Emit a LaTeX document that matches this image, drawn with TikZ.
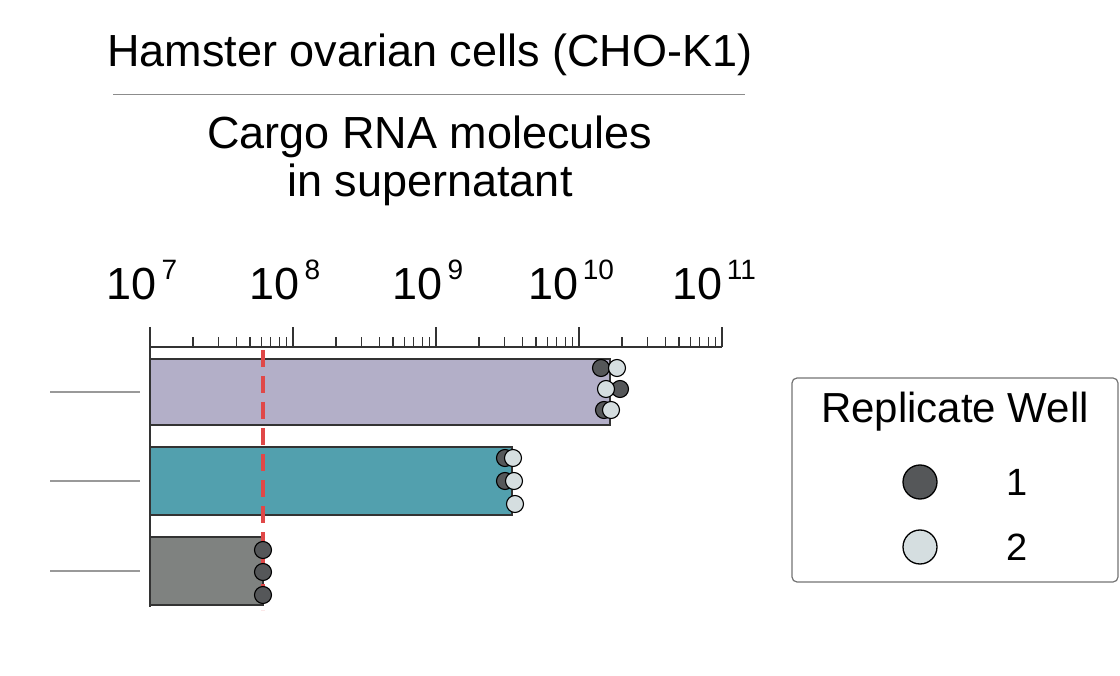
\documentclass[tikz,border=0pt]{standalone}
\usepackage{fontspec}
\setmainfont{Liberation Sans}
\usetikzlibrary{positioning}
\definecolor{barpurple}{HTML}{B3AFC8}
\definecolor{barteal}{HTML}{52A0AE}
\definecolor{bargray}{HTML}{7F8280}
\definecolor{welldark}{HTML}{555759}
\definecolor{welllight}{HTML}{D5DEE0}
\definecolor{cutred}{HTML}{E04848}
\tikzset{
  bar/.style={draw=black!80,line width=1.2pt},
  welldot/.style={circle,draw=black,line width=1.1pt,minimum size=17pt,inner sep=0pt},
  wellone/.style={welldot,fill=welldark},
  welltwo/.style={welldot,fill=welllight},
  txt/.style={font=\fontsize{45}{48}\selectfont},
}
\begin{document}
\begin{tikzpicture}[x=1pt,y=-1pt]
  % Constants
  \pgfmathsetmacro\dec{143}
  % Boundary
  \path[use as bounding box] (0,0) rectangle (1120,676);
  % Titles
  \node[txt] (title) at (430,55) {Hamster ovarian cells (CHO-K1)};
  \draw[black!45,line width=1pt] (113,95) -- (745,95);
  \node[txt,align=center] (cargo) at (430,161) {Cargo RNA molecules\\in supernatant};
  % Axis
  \draw[black!80,line width=1.3pt] (150,327) -- (150,607);
  \draw[black!80,line width=1.3pt] (150,347) -- (722,347);
  \foreach \e [count=\i from 0] in {7,8,9,10,11}{
    \draw[black!80,line width=1.3pt] (150+\i*\dec,347) -- (150+\i*\dec,327);
    \node[font=\fontsize{45}{48}\selectfont,anchor=base] (lab\e) at (142+\i*\dec,300) {10\raisebox{20pt}{\fontsize{28}{30}\selectfont\,\e}};
  }
  \foreach \i in {0,1,2,3}{
    \foreach \m in {2,...,9}{
      \draw[black!80,line width=1.1pt] ({150+\i*\dec+\dec*log10(\m)},347) -- ++(0,-10);
    }
  }
  % Bars
  \filldraw[bar,fill=barpurple] (150,359) rectangle (610,425);
  \filldraw[bar,fill=barteal] (150,447) rectangle (512,515);
  \filldraw[bar,fill=bargray] (150,537) rectangle (263,605);
  \foreach \y in {392,481,571}{
    \draw[black!40,line width=1.2pt] (50,\y) -- (140,\y);
  }
  % Detection limit
  \draw[cutred,line width=3.5pt,dash pattern=on 17pt off 9pt] (263,350) -- (263,610);
  % Replicate wells
  \node[wellone] (a1) at (601,368) {};
  \node[welltwo] (a2) at (617,368) {};
  \node[wellone] (b1) at (620,389) {};
  \node[welltwo] (b2) at (606,389) {};
  \node[wellone] (c1) at (604,410) {};
  \node[welltwo] (c2) at (611,410) {};
  \node[wellone] (d1) at (505,458) {};
  \node[welltwo] (d2) at (513,458) {};
  \node[wellone] (e1) at (505,481) {};
  \node[welltwo] (e2) at (514,481) {};
  \node[welltwo] (f2) at (515,504) {};
  \node[wellone] (g1) at (263,550) {};
  \node[wellone] (h1) at (263,572) {};
  \node[wellone] (i1) at (263,595) {};
  % Legend
  \draw[black!55,line width=1.2pt,rounded corners=5pt] (792,378) rectangle (1118,582);
  \node[txt,font=\fontsize{42}{46}\selectfont] (legtitle) at (955,412) {Replicate Well};
  \node[wellone,minimum size=34pt,line width=1.3pt] (leg1) at (920,482) {};
  \node[welltwo,minimum size=34pt,line width=1.3pt] (leg2) at (920,547) {};
  \node[font=\fontsize{38}{40}\selectfont] (lab1) at (1017,482) {1};
  \node[font=\fontsize{38}{40}\selectfont] (lab2) at (1017,547) {2};
\end{tikzpicture}
\end{document}
